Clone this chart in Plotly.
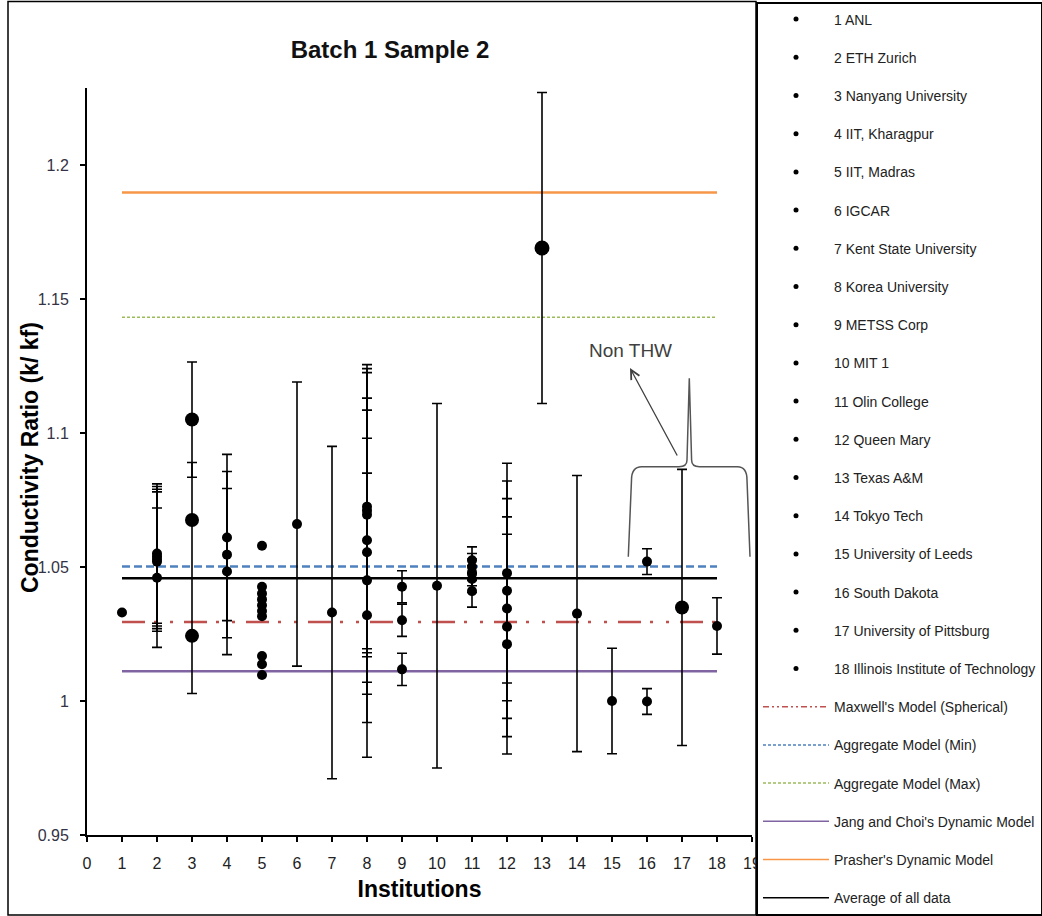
import plotly.graph_objects as go

# ---------------- data ----------------
inst_names = ["1 ANL", "2 ETH Zurich", "3 Nanyang University", "4 IIT, Kharagpur",
              "5 IIT, Madras", "6 IGCAR", "7 Kent State University", "8 Korea University",
              "9 METSS Corp", "10 MIT 1", "11 Olin College", "12 Queen Mary",
              "13 Texas A&M", "14 Tokyo Tech", "15 University of Leeds", "16 South Dakota",
              "17 University of Pittsburg", "18 Illinois Institute of Technology"]

inst_values = [
    [1.0330],
    [1.0550, 1.0540, 1.0530, 1.0520, 1.0460],
    [1.1050, 1.0675, 1.0243],
    [1.0610, 1.0546, 1.0483],
    [1.0579, 1.0426, 1.0401, 1.0379, 1.0357, 1.0336, 1.0316, 1.0168, 1.0137, 1.0097],
    [1.0660],
    [1.0330],
    [1.0725, 1.0710, 1.0695, 1.0600, 1.0555, 1.0450, 1.0320],
    [1.0426, 1.0301, 1.0118],
    [1.0430],
    [1.0525, 1.0500, 1.0480, 1.0455, 1.0410],
    [1.0477, 1.0411, 1.0345, 1.0277, 1.0212],
    [1.1690],
    [1.0326],
    [1.0000],
    [1.0520, 0.9998],
    [1.0349],
    [1.0280],
]

inst_errors = [
    None,
    [0.026, 0.026, 0.026, 0.026, 0.026],
    [0.0215, 0.0215, 0.0215],
    [0.031, 0.031, 0.031],
    None,
    [0.053],
    [0.062],
    [0.053, 0.053, 0.053, 0.053, 0.053, 0.053, 0.053],
    [0.006, 0.006, 0.006],
    [0.068],
    [0.005, 0.005, 0.005, 0.005, 0.006],
    [0.041, 0.041, 0.041, 0.041, 0.041],
    [0.058],
    [0.0515],
    [0.0197],
    [0.0048, 0.0048],
    [0.0515],
    [0.0105],
]

model_names = ["Maxwell's Model (Spherical)", "Aggregate Model (Min)", "Aggregate Model (Max)",
               "Jang and Choi's Dynamic Model", "Prasher's Dynamic Model", "Average of all data"]
model_values = [1.0295, 1.0502, 1.1432, 1.0111, 1.1897, 1.0458]
model_x = [1, 18]

x_ticks = list(range(0, 20))
y_tickvals = [0.95, 1.0, 1.05, 1.1, 1.15, 1.2]
y_ticktext = ["0.95", "1", "1.05", "1.1", "1.15", "1.2"]

# ---------------- styles ----------------
big_points = {3: 14, 13: 15, 17: 14}
model_styles = [
    dict(color="#C0504D", width=2.5, dash="23px,9px,3px,13px,3px,11px", ldash="6px,3px,2px,3px,2px,3px"),
    dict(color="#4F81BD", width=2.5, dash="8px,4px", ldash="3px,2px"),
    dict(color="#9BBB59", width=1.5, dash="3px,2px", ldash="3px,2px"),
    dict(color="#8064A2", width=2.5, dash="solid", ldash="solid"),
    dict(color="#F79646", width=2.5, dash="solid", ldash="solid"),
    dict(color="black", width=2.5, dash="solid", ldash="solid"),
]

W, H = 1042, 916
ML, MR, MT, MB = 87, 290, 88, 81
XR = [0, 19]
YR = [0.95, 1.2287]
PW, PH = W - ML - MR, H - MT - MB


def px_to_x(px):
    return XR[0] + (px - ML) / PW * (XR[1] - XR[0])


def px_to_y(py):
    return YR[0] + (H - MB - py) / PH * (YR[1] - YR[0])


def px_to_paper_x(px):
    return (px - ML) / PW


def px_to_paper_y(py):
    return (H - MB - py) / PH


fig = go.Figure()

# model lines first (drawn beneath points)
for name, val, st in zip(model_names, model_values, model_styles):
    fig.add_trace(go.Scatter(
        x=model_x, y=[val, val], mode="lines", name=name,
        line=dict(color=st["color"], width=st["width"], dash=st["dash"]),
        showlegend=False, hoverinfo="skip"))

# institution points
for k, (name, vals, errs) in enumerate(zip(inst_names, inst_values, inst_errors)):
    idx = k + 1
    size = big_points.get(idx, 10)
    err = None
    if errs is not None:
        err = dict(type="data", array=errs, symmetric=True, color="black",
                   thickness=1.6, width=5, visible=True)
    fig.add_trace(go.Scatter(
        x=[idx] * len(vals), y=vals, mode="markers", name=name,
        marker=dict(color="black", size=size),
        error_y=err, showlegend=False))

# legend-only entries (institutions, then models)
for k, name in enumerate(inst_names):
    fig.add_trace(go.Scatter(
        x=[None], y=[None], mode="markers", name=name,
        marker=dict(color="black", size=5), legendgroup="g%d" % k, showlegend=True))
for i, (name, st) in enumerate(zip(model_names, model_styles)):
    fig.add_trace(go.Scatter(
        x=[None], y=[None], mode="lines", name=name,
        line=dict(color=st["color"], width=1.5, dash=st["ldash"]),
        legendgroup="m%d" % i, showlegend=True))

# brace for "Non THW"
brace_pts = [(628.3, 556.7), (631.5, 480), (641.7, 466.7), (679, 466.7), (687, 460),
             (689.3, 378.3), (691.6, 460), (699.5, 466.7), (737.5, 466.7), (747, 480),
             (750, 556.7)]
bp = [(px_to_x(a), px_to_y(b)) for a, b in brace_pts]
path = ("M {0},{1} L {2},{3} Q {2},{5} {4},{5} L {6},{7} Q {8},{7} {8},{9} L {10},{11} "
        "L {12},{13} Q {12},{15} {14},{15} L {16},{17} Q {18},{17} {18},{19} L {20},{21}").format(
    bp[0][0], bp[0][1], bp[1][0], bp[1][1], bp[2][0], bp[2][1], bp[3][0], bp[3][1],
    bp[4][0], bp[4][1], bp[5][0], bp[5][1], bp[6][0], bp[6][1], bp[7][0], bp[7][1],
    bp[8][0], bp[8][1], bp[9][0], bp[9][1], bp[10][0], bp[10][1])
fig.add_shape(type="path", path=path, xref="x", yref="y",
              line=dict(color="#555555", width=1.5))

# chart frame
fig.add_shape(type="rect", xref="paper", yref="paper",
              x0=px_to_paper_x(8), x1=px_to_paper_x(756),
              y0=px_to_paper_y(915), y1=px_to_paper_y(1.5),
              line=dict(color="black", width=1.5), layer="below")

# Non THW text and arrow
fig.add_annotation(x=px_to_x(630), y=px_to_y(350), text="Non THW", showarrow=False,
                   font=dict(size=19, color="#404040", family="Liberation Sans"),
                   xref="x", yref="y")
fig.add_annotation(x=px_to_x(630), y=px_to_y(368), ax=px_to_x(678), ay=px_to_y(457),
                   xref="x", yref="y", axref="x", ayref="y", text="", showarrow=True,
                   arrowhead=5, arrowsize=1.4, arrowwidth=1.3, arrowcolor="#404040")

# y-axis title (placed to overlap the tick-label column as in the original)
fig.add_annotation(x=px_to_paper_x(30), y=px_to_paper_y(458), xref="paper", yref="paper",
                   text="<b>Conductivity Ratio (k/ kf)</b>", textangle=-90, showarrow=False,
                   font=dict(size=23, color="black"), xanchor="center", yanchor="middle")

fig.update_layout(
    width=W, height=H,
    margin=dict(l=ML, r=MR, t=MT, b=MB, autoexpand=False),
    paper_bgcolor="white", plot_bgcolor="white",
    font=dict(family="Liberation Sans", color="black"),
    title=dict(text="<b>Batch 1 Sample 2</b>", x=390 / W,
               xanchor="center", y=1 - 50 / H, yanchor="middle",
               font=dict(size=24, color="#111111")),
    showlegend=True,
    legend=dict(x=px_to_paper_x(756), xanchor="left", y=px_to_paper_y(1.5), yanchor="top",
                bordercolor="black", borderwidth=2, bgcolor="white",
                font=dict(size=14, color="#222222"), maxheight=2000,
                traceorder="grouped", tracegroupgap=17, itemwidth=66),
)

fig.update_xaxes(range=XR, tickmode="array", tickvals=x_ticks, ticktext=[str(t) for t in x_ticks],
                 showline=True, linecolor="black", linewidth=2, ticks="outside", ticklen=5,
                 tickcolor="black", tickwidth=1.5, showgrid=False, zeroline=False,
                 tickfont=dict(size=16, color="#222222"), ticklabelstandoff=8,
                 title=dict(text="<b>Institutions</b>", font=dict(size=23), standoff=10))
fig.update_yaxes(range=YR, tickmode="array", tickvals=y_tickvals, ticktext=y_ticktext,
                 showline=True, linecolor="black", linewidth=2, ticks="outside", ticklen=5,
                 tickcolor="black", tickwidth=1.5, showgrid=False, zeroline=False,
                 tickfont=dict(size=16, color="#333344"), ticklabelstandoff=8)

fig.write_html("out.html")
